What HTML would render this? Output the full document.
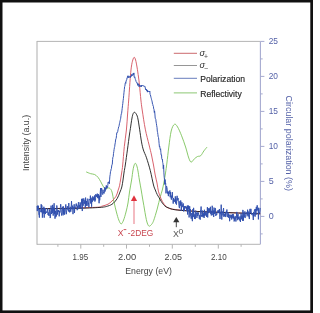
<!DOCTYPE html>
<html><head><meta charset="utf-8"><style>html,body{margin:0;padding:0;background:#fff;width:313px;height:313px;overflow:hidden}svg{display:block;will-change:transform}</style></head>
<body><svg width="313" height="313" viewBox="0 0 313 313" font-family='"Liberation Sans", sans-serif'><rect x="0" y="0" width="313" height="313" fill="#111"/>
<rect x="2.5" y="2.5" width="307.8" height="307.9" fill="#fff"/>
<line x1="37.0" y1="41.4" x2="260.4" y2="41.4" stroke="#b4b4b4" stroke-width="1"/>
<line x1="37.0" y1="40.9" x2="37.0" y2="244.8" stroke="#b4b4b4" stroke-width="1.1"/>
<line x1="37.0" y1="244.3" x2="260.4" y2="244.3" stroke="#b4b4b4" stroke-width="1"/>
<line x1="260.4" y1="41.4" x2="260.4" y2="244.3" stroke="#a6aad0" stroke-width="1.1"/>
<line x1="80.8" y1="244.3" x2="80.8" y2="248.60000000000002" stroke="#b4b4b4" stroke-width="1"/>
<line x1="126.5" y1="244.3" x2="126.5" y2="248.60000000000002" stroke="#b4b4b4" stroke-width="1"/>
<line x1="172.3" y1="244.3" x2="172.3" y2="248.60000000000002" stroke="#b4b4b4" stroke-width="1"/>
<line x1="218.3" y1="244.3" x2="218.3" y2="248.60000000000002" stroke="#b4b4b4" stroke-width="1"/>
<line x1="57.9" y1="244.3" x2="57.9" y2="246.8" stroke="#b4b4b4" stroke-width="1"/>
<line x1="103.7" y1="244.3" x2="103.7" y2="246.8" stroke="#b4b4b4" stroke-width="1"/>
<line x1="149.5" y1="244.3" x2="149.5" y2="246.8" stroke="#b4b4b4" stroke-width="1"/>
<line x1="195.3" y1="244.3" x2="195.3" y2="246.8" stroke="#b4b4b4" stroke-width="1"/>
<line x1="241.1" y1="244.3" x2="241.1" y2="246.8" stroke="#b4b4b4" stroke-width="1"/>
<line x1="260.4" y1="41.4" x2="264.4" y2="41.4" stroke="#a6aad0" stroke-width="1"/>
<line x1="260.4" y1="58.9" x2="262.7" y2="58.9" stroke="#a6aad0" stroke-width="1"/>
<line x1="260.4" y1="76.4" x2="264.4" y2="76.4" stroke="#a6aad0" stroke-width="1"/>
<line x1="260.4" y1="93.9" x2="262.7" y2="93.9" stroke="#a6aad0" stroke-width="1"/>
<line x1="260.4" y1="111.4" x2="264.4" y2="111.4" stroke="#a6aad0" stroke-width="1"/>
<line x1="260.4" y1="128.9" x2="262.7" y2="128.9" stroke="#a6aad0" stroke-width="1"/>
<line x1="260.4" y1="146.4" x2="264.4" y2="146.4" stroke="#a6aad0" stroke-width="1"/>
<line x1="260.4" y1="163.9" x2="262.7" y2="163.9" stroke="#a6aad0" stroke-width="1"/>
<line x1="260.4" y1="181.4" x2="264.4" y2="181.4" stroke="#a6aad0" stroke-width="1"/>
<line x1="260.4" y1="198.9" x2="262.7" y2="198.9" stroke="#a6aad0" stroke-width="1"/>
<line x1="260.4" y1="216.4" x2="264.4" y2="216.4" stroke="#a6aad0" stroke-width="1"/>
<line x1="260.4" y1="233.9" x2="262.7" y2="233.9" stroke="#a6aad0" stroke-width="1"/>
<path d="M86.20,171.90 C86.95,172.20 89.30,173.27 90.70,173.70 C92.10,174.13 93.38,173.90 94.60,174.50 C95.82,175.10 96.97,176.08 98.00,177.30 C99.03,178.52 99.97,180.35 100.80,181.80 C101.63,183.25 102.22,184.80 103.00,186.00 C103.78,187.20 104.67,188.67 105.50,189.00 C106.33,189.33 107.25,188.08 108.00,188.00 C108.75,187.92 109.33,187.83 110.00,188.50 C110.67,189.17 111.33,189.75 112.00,192.00 C112.67,194.25 113.27,198.67 114.00,202.00 C114.73,205.33 115.60,209.00 116.40,212.00 C117.20,215.00 118.00,218.02 118.80,220.00 C119.60,221.98 120.40,223.90 121.20,223.90 C122.00,223.90 122.80,221.98 123.60,220.00 C124.40,218.02 125.27,214.83 126.00,212.00 C126.73,209.17 127.42,206.33 128.00,203.00 C128.58,199.67 128.90,195.83 129.50,192.00 C130.10,188.17 131.02,183.67 131.60,180.00 C132.18,176.33 132.57,172.50 133.00,170.00 C133.43,167.50 133.82,166.12 134.20,165.00 C134.58,163.88 134.92,163.30 135.30,163.30 C135.68,163.30 136.08,163.88 136.50,165.00 C136.92,166.12 137.32,167.50 137.80,170.00 C138.28,172.50 138.83,176.67 139.40,180.00 C139.97,183.33 140.68,187.00 141.20,190.00 C141.72,193.00 142.07,195.45 142.50,198.00 C142.93,200.55 143.38,202.88 143.80,205.30 C144.22,207.72 144.58,210.15 145.00,212.50 C145.42,214.85 145.87,217.48 146.30,219.40 C146.73,221.32 147.12,222.87 147.60,224.00 C148.08,225.13 148.55,226.12 149.20,226.20 C149.85,226.28 150.82,225.28 151.50,224.50 C152.18,223.72 152.67,223.00 153.30,221.50 C153.93,220.00 154.65,217.58 155.30,215.50 C155.95,213.42 156.62,211.17 157.20,209.00 C157.78,206.83 158.27,204.60 158.80,202.50 C159.33,200.40 159.82,198.48 160.40,196.40 C160.98,194.32 161.70,192.40 162.30,190.00 C162.90,187.60 163.47,184.83 164.00,182.00 C164.53,179.17 165.02,176.17 165.50,173.00 C165.98,169.83 166.35,167.33 166.90,163.00 C167.45,158.67 168.08,152.33 168.80,147.00 C169.52,141.67 170.27,134.78 171.20,131.00 C172.13,127.22 173.33,124.97 174.40,124.30 C175.47,123.63 176.40,125.08 177.60,127.00 C178.80,128.92 180.27,132.47 181.60,135.80 C182.93,139.13 184.40,143.28 185.60,147.00 C186.80,150.72 187.87,155.58 188.80,158.10 C189.73,160.62 190.28,161.97 191.20,162.10 C192.12,162.23 193.25,159.83 194.30,158.90 C195.35,157.97 196.43,157.03 197.50,156.50 C198.57,155.97 199.63,156.63 200.70,155.70 C201.77,154.77 202.83,152.35 203.90,150.90 C204.97,149.45 206.57,147.65 207.10,147.00" fill="none" stroke="#7cc35a" stroke-width="0.9"/>
<path d="M37.00,208.60 C40.83,208.57 52.83,208.53 60.00,208.40 C67.17,208.27 73.67,208.00 80.00,207.80 C86.33,207.60 94.33,207.47 98.00,207.20 C101.67,206.93 100.33,206.70 102.00,206.20 C103.67,205.70 106.33,205.07 108.00,204.20 C109.67,203.33 110.65,202.33 112.00,201.00 C113.35,199.67 115.07,198.03 116.10,196.20 C117.13,194.37 117.63,191.73 118.20,190.00 C118.77,188.27 119.08,187.63 119.50,185.80 C119.92,183.97 120.32,181.30 120.70,179.00 C121.08,176.70 121.47,174.33 121.80,172.00 C122.13,169.67 122.28,169.23 122.70,165.00 C123.12,160.77 123.68,152.43 124.30,146.60 C124.92,140.77 125.85,135.43 126.40,130.00 C126.95,124.57 127.22,119.00 127.60,114.00 C127.98,109.00 128.40,104.00 128.70,100.00 C129.00,96.00 129.10,94.17 129.40,90.00 C129.70,85.83 130.15,79.00 130.50,75.00 C130.85,71.00 131.12,68.50 131.50,66.00 C131.88,63.50 132.35,61.45 132.80,60.00 C133.25,58.55 133.73,57.30 134.20,57.30 C134.67,57.30 135.13,58.38 135.60,60.00 C136.07,61.62 136.52,64.17 137.00,67.00 C137.48,69.83 138.08,73.95 138.50,77.00 C138.92,80.05 139.10,81.47 139.50,85.30 C139.90,89.13 140.45,95.88 140.90,100.00 C141.35,104.12 141.47,105.13 142.20,110.00 C142.93,114.87 144.15,123.37 145.30,129.20 C146.45,135.03 148.07,140.70 149.10,145.00 C150.13,149.30 150.77,151.67 151.50,155.00 C152.23,158.33 152.88,161.67 153.50,165.00 C154.12,168.33 154.62,172.00 155.20,175.00 C155.78,178.00 156.47,180.30 157.00,183.00 C157.53,185.70 157.87,188.95 158.40,191.20 C158.93,193.45 159.55,194.82 160.20,196.50 C160.85,198.18 161.20,199.52 162.30,201.30 C163.40,203.08 165.12,205.90 166.80,207.20 C168.48,208.50 170.20,208.62 172.40,209.10 C174.60,209.58 177.07,209.80 180.00,210.10 C182.93,210.40 186.67,210.65 190.00,210.90 C193.33,211.15 193.33,211.30 200.00,211.60 C206.67,211.90 219.97,212.33 230.00,212.70 C240.03,213.07 255.17,213.62 260.20,213.80" fill="none" stroke="#d4505c" stroke-width="0.9"/>
<path d="M37.00,208.70 C43.33,208.65 64.50,208.62 75.00,208.40 C85.50,208.18 94.50,207.80 100.00,207.40 C105.50,207.00 105.83,206.65 108.00,206.00 C110.17,205.35 111.47,204.75 113.00,203.50 C114.53,202.25 116.03,200.42 117.20,198.50 C118.37,196.58 119.23,193.92 120.00,192.00 C120.77,190.08 121.30,189.00 121.80,187.00 C122.30,185.00 122.62,182.50 123.00,180.00 C123.38,177.50 123.72,174.50 124.10,172.00 C124.48,169.50 124.73,168.80 125.30,165.00 C125.87,161.20 126.82,154.20 127.50,149.20 C128.18,144.20 128.92,138.45 129.40,135.00 C129.88,131.55 129.97,131.33 130.40,128.50 C130.83,125.67 131.53,120.50 132.00,118.00 C132.47,115.50 132.78,114.45 133.20,113.50 C133.62,112.55 134.05,112.30 134.50,112.30 C134.95,112.30 135.37,112.60 135.90,113.50 C136.43,114.40 137.08,115.08 137.70,117.70 C138.32,120.32 138.97,125.17 139.60,129.20 C140.23,133.23 140.87,138.43 141.50,141.90 C142.13,145.37 142.57,147.35 143.40,150.00 C144.23,152.65 145.35,154.37 146.50,157.80 C147.65,161.23 149.13,166.07 150.30,170.60 C151.47,175.13 152.67,181.77 153.50,185.00 C154.33,188.23 154.68,188.42 155.30,190.00 C155.92,191.58 156.57,193.22 157.20,194.50 C157.83,195.78 158.42,196.53 159.10,197.70 C159.78,198.87 160.55,200.33 161.30,201.50 C162.05,202.67 162.82,203.82 163.60,204.70 C164.38,205.58 165.27,206.32 166.00,206.80 C166.73,207.28 166.93,207.18 168.00,207.60 C169.07,208.02 170.40,208.85 172.40,209.30 C174.40,209.75 177.07,210.02 180.00,210.30 C182.93,210.58 186.67,210.78 190.00,211.00 C193.33,211.22 193.33,211.32 200.00,211.60 C206.67,211.88 219.97,212.33 230.00,212.70 C240.03,213.07 255.17,213.62 260.20,213.80" fill="none" stroke="#1a1a1a" stroke-width="0.9"/>
<path d="M37.00,205.98 L37.30,211.11 L37.60,205.65 L37.90,209.70 L38.20,206.02 L38.50,205.78 L38.80,214.83 L39.10,215.27 L39.40,217.61 L39.70,209.01 L40.00,210.24 L40.30,210.73 L40.60,211.43 L40.90,212.16 L41.20,204.23 L41.50,212.20 L41.80,205.24 L42.10,209.97 L42.40,217.65 L42.70,209.82 L43.00,209.05 L43.30,213.58 L43.60,210.31 L43.90,206.77 L44.20,217.67 L44.50,208.38 L44.80,213.05 L45.10,208.08 L45.40,214.07 L45.70,212.05 L46.00,212.53 L46.30,211.59 L46.60,211.89 L46.90,212.90 L47.20,210.74 L47.50,208.26 L47.80,212.09 L48.10,215.06 L48.40,212.73 L48.70,212.50 L49.00,215.96 L49.30,209.26 L49.60,211.11 L49.90,213.46 L50.20,218.05 L50.50,216.08 L50.80,210.82 L51.10,205.63 L51.40,214.03 L51.70,212.75 L52.00,208.07 L52.30,213.09 L52.60,204.87 L52.90,207.75 L53.20,215.65 L53.50,207.54 L53.80,210.30 L54.10,203.27 L54.40,214.11 L54.70,208.01 L55.00,218.68 L55.30,213.03 L55.60,210.84 L55.90,217.11 L56.20,215.12 L56.50,215.81 L56.80,205.47 L57.10,209.07 L57.40,214.59 L57.70,210.38 L58.00,210.44 L58.30,211.92 L58.60,210.05 L58.90,210.87 L59.20,216.30 L59.50,211.12 L59.80,212.65 L60.10,212.42 L60.40,207.57 L60.70,204.16 L61.00,206.73 L61.30,212.49 L61.60,215.53 L61.90,213.82 L62.20,211.50 L62.50,206.78 L62.80,208.70 L63.10,215.35 L63.40,206.39 L63.70,213.96 L64.00,208.78 L64.30,208.63 L64.60,214.70 L64.90,212.76 L65.20,209.97 L65.50,207.11 L65.80,204.41 L66.10,212.21 L66.40,214.17 L66.70,210.64 L67.00,208.57 L67.30,206.14 L67.60,209.61 L67.90,210.04 L68.20,210.06 L68.50,211.28 L68.80,203.04 L69.10,211.68 L69.40,210.29 L69.70,212.36 L70.00,211.37 L70.30,206.84 L70.60,211.38 L70.90,211.69 L71.20,206.90 L71.50,201.12 L71.80,206.20 L72.10,209.34 L72.40,205.82 L72.70,205.68 L73.00,214.15 L73.30,207.42 L73.60,208.63 L73.90,207.20 L74.20,204.26 L74.50,212.91 L74.80,206.83 L75.10,207.60 L75.40,207.91 L75.70,207.93 L76.00,203.85 L76.30,203.53 L76.60,205.96 L76.90,204.75 L77.20,210.19 L77.50,206.71 L77.80,205.94 L78.10,209.15 L78.40,202.07 L78.70,202.46 L79.00,207.02 L79.30,205.01 L79.60,208.06 L79.90,208.10 L80.20,202.43 L80.50,208.15 L80.80,208.46 L81.10,203.72 L81.40,203.76 L81.70,198.83 L82.00,206.07 L82.30,211.04 L82.60,198.69 L82.90,202.75 L83.20,205.73 L83.50,201.42 L83.80,198.40 L84.10,200.56 L84.40,203.72 L84.70,202.07 L85.00,200.13 L85.30,207.70 L85.60,197.60 L85.90,202.02 L86.20,205.91 L86.50,201.00 L86.80,202.80 L87.10,205.80 L87.40,199.30 L87.70,198.67 L88.00,200.31 L88.30,204.25 L88.60,202.82 L88.90,207.08 L89.20,198.98 L89.50,199.80 L89.80,200.00 L90.10,199.98 L90.40,195.64 L90.70,203.51 L91.00,199.57 L91.30,198.75 L91.60,206.69 L91.90,197.61 L92.20,201.78 L92.50,201.69 L92.80,196.33 L93.10,199.36 L93.40,200.30 L93.70,197.35 L94.00,199.29 L94.30,200.51 L94.60,195.46 L94.90,201.56 L95.20,200.62 L95.50,200.37 L95.80,194.15 L96.10,196.69 L96.40,195.30 L96.70,196.63 L97.00,194.27 L97.30,193.62 L97.60,197.89 L97.90,194.44 L98.20,198.36 L98.50,194.30 L98.80,198.00 L99.10,203.22 L99.40,195.70 L99.70,200.32 L100.00,196.65 L100.30,191.92 L100.60,188.02 L100.90,196.96 L101.20,191.41 L101.50,188.04 L101.80,188.84 L102.10,193.26 L102.40,193.59 L102.70,194.59 L103.00,189.76 L103.30,191.54 L103.60,192.98 L103.90,193.59 L104.20,193.37 L104.50,190.89 L104.80,187.21 L105.10,191.48 L105.40,187.92 L105.70,189.45 L106.00,188.23 L106.30,185.39 L106.60,188.53 L106.90,186.37 L107.20,187.57 L107.50,187.48 L107.80,185.43 L108.10,182.12 L108.40,182.60 L108.70,181.94 L109.00,181.71 L109.30,183.85 L109.60,179.88 L109.90,176.12 L110.20,174.61 L110.50,171.44 L110.80,171.26 L111.10,169.02 L111.40,168.61 L111.70,165.98 L112.00,164.41 L112.30,164.27 L112.60,159.57 L112.90,157.16 L113.20,156.78 L113.50,153.61 L113.80,151.59 L114.10,149.40 L114.40,147.64 L114.70,146.67 L115.00,144.00 L115.30,142.72 L115.60,139.98 L115.90,138.78 L116.20,138.31 L116.50,135.52 L116.80,132.64 L117.10,132.53 L117.40,132.56 L117.70,131.73 L118.00,129.81 L118.30,128.76 L118.60,126.91 L118.90,126.61 L119.20,125.20 L119.50,123.27 L119.80,122.28 L120.10,120.82 L120.40,119.58 L120.70,118.22 L121.00,115.55 L121.30,113.63 L121.60,113.53 L121.90,110.83 L122.20,108.49 L122.50,105.71 L122.80,103.49 L123.10,100.67 L123.40,98.61 L123.70,95.35 L124.00,92.29 L124.30,89.62 L124.60,86.63 L124.90,86.17 L125.20,83.37 L125.50,82.51 L125.80,83.43 L126.10,80.60 L126.40,80.62 L126.70,79.82 L127.00,77.84 L127.30,77.97 L127.60,76.06 L127.90,75.70 L128.20,75.88 L128.50,77.73 L128.80,76.48 L129.10,76.49 L129.40,76.39 L129.70,76.42 L130.00,77.90 L130.30,77.32 L130.60,75.99 L130.90,76.90 L131.20,76.03 L131.50,74.54 L131.80,76.01 L132.10,74.54 L132.40,74.81 L132.70,75.38 L133.00,73.78 L133.30,73.14 L133.60,74.62 L133.90,72.92 L134.20,77.22 L134.50,77.39 L134.80,76.87 L135.10,78.34 L135.40,79.49 L135.70,79.84 L136.00,81.31 L136.30,81.75 L136.60,82.05 L136.90,83.18 L137.20,82.96 L137.50,83.85 L137.80,85.43 L138.10,83.57 L138.40,84.97 L138.70,84.60 L139.00,86.72 L139.30,84.84 L139.60,85.07 L139.90,86.09 L140.20,85.98 L140.50,86.61 L140.80,86.30 L141.10,85.15 L141.40,86.71 L141.70,85.55 L142.00,85.01 L142.30,85.57 L142.60,85.85 L142.90,85.46 L143.20,85.89 L143.50,85.73 L143.80,86.38 L144.10,86.37 L144.40,86.11 L144.70,86.56 L145.00,86.36 L145.30,87.93 L145.60,89.67 L145.90,88.99 L146.20,89.44 L146.50,89.00 L146.80,91.00 L147.10,90.05 L147.40,92.15 L147.70,90.58 L148.00,90.86 L148.30,91.70 L148.60,91.44 L148.90,91.90 L149.20,91.33 L149.50,91.85 L149.80,91.05 L150.10,94.68 L150.40,94.88 L150.70,96.06 L151.00,97.44 L151.30,98.36 L151.60,99.73 L151.90,100.69 L152.20,101.93 L152.50,104.16 L152.80,104.49 L153.10,106.00 L153.40,106.36 L153.70,108.90 L154.00,109.45 L154.30,112.48 L154.60,110.96 L154.90,114.03 L155.20,118.06 L155.50,118.88 L155.80,119.43 L156.10,122.02 L156.40,123.67 L156.70,125.74 L157.00,127.33 L157.30,131.11 L157.60,132.46 L157.90,134.59 L158.20,136.90 L158.50,137.52 L158.80,140.18 L159.10,143.62 L159.40,146.48 L159.70,146.02 L160.00,148.44 L160.30,149.57 L160.60,148.77 L160.90,152.50 L161.20,155.11 L161.50,154.86 L161.80,158.74 L162.10,159.32 L162.40,159.01 L162.70,162.56 L163.00,163.77 L163.30,168.77 L163.60,165.06 L163.90,172.86 L164.20,177.16 L164.50,179.75 L164.80,184.49 L165.10,179.48 L165.40,183.71 L165.70,183.06 L166.00,193.35 L166.30,187.70 L166.60,186.18 L166.90,187.33 L167.20,189.11 L167.50,193.47 L167.80,191.56 L168.10,194.08 L168.40,196.14 L168.70,191.64 L169.00,193.99 L169.30,192.65 L169.60,192.18 L169.90,190.45 L170.20,197.21 L170.50,192.12 L170.80,196.84 L171.10,198.61 L171.40,199.64 L171.70,195.64 L172.00,197.98 L172.30,192.10 L172.60,197.42 L172.90,198.38 L173.20,203.61 L173.50,197.98 L173.80,201.49 L174.10,199.37 L174.40,201.58 L174.70,201.34 L175.00,201.64 L175.30,196.33 L175.60,203.33 L175.90,198.30 L176.20,203.68 L176.50,204.61 L176.80,199.92 L177.10,195.82 L177.40,200.23 L177.70,200.42 L178.00,197.97 L178.30,200.16 L178.60,200.39 L178.90,205.33 L179.20,207.28 L179.50,208.13 L179.80,201.29 L180.10,202.84 L180.40,205.62 L180.70,200.48 L181.00,202.89 L181.30,210.87 L181.60,205.83 L181.90,202.28 L182.20,207.22 L182.50,205.98 L182.80,204.44 L183.10,203.96 L183.40,203.52 L183.70,211.45 L184.00,208.24 L184.30,210.74 L184.60,206.22 L184.90,207.47 L185.20,205.99 L185.50,206.93 L185.80,208.46 L186.10,208.10 L186.40,206.79 L186.70,211.00 L187.00,210.95 L187.30,205.61 L187.60,214.53 L187.90,206.14 L188.20,205.40 L188.50,209.23 L188.80,205.98 L189.10,217.43 L189.40,211.78 L189.70,206.31 L190.00,213.40 L190.30,209.00 L190.60,216.38 L190.90,216.46 L191.20,218.70 L191.50,215.62 L191.80,212.95 L192.10,219.20 L192.40,221.17 L192.70,209.70 L193.00,209.03 L193.30,216.88 L193.60,207.84 L193.90,211.35 L194.20,217.02 L194.50,218.95 L194.80,214.32 L195.10,218.82 L195.40,218.90 L195.70,210.67 L196.00,212.85 L196.30,213.80 L196.60,212.98 L196.90,217.85 L197.20,212.21 L197.50,214.74 L197.80,216.06 L198.10,213.12 L198.40,212.48 L198.70,214.77 L199.00,215.79 L199.30,218.79 L199.60,215.92 L199.90,214.96 L200.20,219.68 L200.50,210.59 L200.80,211.79 L201.10,206.54 L201.40,214.61 L201.70,216.78 L202.00,214.98 L202.30,216.05 L202.60,210.57 L202.90,217.16 L203.20,214.06 L203.50,216.31 L203.80,212.78 L204.10,217.98 L204.40,209.75 L204.70,215.77 L205.00,211.13 L205.30,211.64 L205.60,215.34 L205.90,214.39 L206.20,212.22 L206.50,216.84 L206.80,213.63 L207.10,212.66 L207.40,207.13 L207.70,217.46 L208.00,208.18 L208.30,210.84 L208.60,213.14 L208.90,208.50 L209.20,210.64 L209.50,208.57 L209.80,212.41 L210.10,210.09 L210.40,206.80 L210.70,213.88 L211.00,212.14 L211.30,215.45 L211.60,210.84 L211.90,211.65 L212.20,205.75 L212.50,208.67 L212.80,215.20 L213.10,211.84 L213.40,210.57 L213.70,217.02 L214.00,207.61 L214.30,209.51 L214.60,213.99 L214.90,213.28 L215.20,208.20 L215.50,208.27 L215.80,215.95 L216.10,213.99 L216.40,213.43 L216.70,214.88 L217.00,213.74 L217.30,211.86 L217.60,211.50 L217.90,210.35 L218.20,212.37 L218.50,210.56 L218.80,213.15 L219.10,211.55 L219.40,208.99 L219.70,214.08 L220.00,219.04 L220.30,213.76 L220.60,211.92 L220.90,214.17 L221.20,204.66 L221.50,213.78 L221.80,219.55 L222.10,211.74 L222.40,211.73 L222.70,211.62 L223.00,215.46 L223.30,209.55 L223.60,208.08 L223.90,216.87 L224.20,213.79 L224.50,216.17 L224.80,214.53 L225.10,215.39 L225.40,212.42 L225.70,217.05 L226.00,215.34 L226.30,211.26 L226.60,213.09 L226.90,209.50 L227.20,215.48 L227.50,216.84 L227.80,214.15 L228.10,212.36 L228.40,217.74 L228.70,213.91 L229.00,215.76 L229.30,214.98 L229.60,221.21 L229.90,218.90 L230.20,214.66 L230.50,215.73 L230.80,217.76 L231.10,216.90 L231.40,214.96 L231.70,219.48 L232.00,215.83 L232.30,214.13 L232.60,217.84 L232.90,218.29 L233.20,213.96 L233.50,218.37 L233.80,215.84 L234.10,221.46 L234.40,221.11 L234.70,217.36 L235.00,219.35 L235.30,216.30 L235.60,217.76 L235.90,221.53 L236.20,218.35 L236.50,215.06 L236.80,211.92 L237.10,218.22 L237.40,215.07 L237.70,220.16 L238.00,213.90 L238.30,218.98 L238.60,217.00 L238.90,218.34 L239.20,219.42 L239.50,220.40 L239.80,216.77 L240.10,216.30 L240.40,221.95 L240.70,217.97 L241.00,213.51 L241.30,214.63 L241.60,219.28 L241.90,216.68 L242.20,215.77 L242.50,220.74 L242.80,209.92 L243.10,210.49 L243.40,220.78 L243.70,213.57 L244.00,212.59 L244.30,217.04 L244.60,217.44 L244.90,211.38 L245.20,217.42 L245.50,217.67 L245.80,216.48 L246.10,214.30 L246.40,212.75 L246.70,212.20 L247.00,212.34 L247.30,215.54 L247.60,209.69 L247.90,212.51 L248.20,216.55 L248.50,213.04 L248.80,211.51 L249.10,218.04 L249.40,219.06 L249.70,211.78 L250.00,208.88 L250.30,213.18 L250.60,212.85 L250.90,208.87 L251.20,211.85 L251.50,214.48 L251.80,213.75 L252.10,213.05 L252.40,215.18 L252.70,214.74 L253.00,215.75 L253.30,220.02 L253.60,212.19 L253.90,216.03 L254.20,211.64 L254.50,209.72 L254.80,209.32 L255.10,216.66 L255.40,208.92 L255.70,210.56 L256.00,214.71 L256.30,206.86 L256.60,210.73 L256.90,208.38 L257.20,205.26 L257.50,207.88 L257.80,210.47 L258.10,208.64 L258.40,219.37 L258.70,207.76 L259.00,212.33 L259.30,212.25 L259.60,213.20 L259.90,211.44 L260.20,207.98" fill="none" stroke="#2f4fae" stroke-width="0.95" stroke-linejoin="round"/>
<line x1="173.8" y1="53.3" x2="197" y2="53.3" stroke="#c86266" stroke-width="0.95"/>
<line x1="173.8" y1="65.5" x2="197" y2="65.5" stroke="#8a8a8a" stroke-width="0.9"/>
<line x1="173.8" y1="78.3" x2="197" y2="78.3" stroke="#5f76b8" stroke-width="0.95"/>
<line x1="173.8" y1="92.9" x2="197" y2="92.9" stroke="#86c56c" stroke-width="0.95"/>
<text x="72.5" y="259.8" font-size="9.2" fill="#444" textLength="15.6" lengthAdjust="spacingAndGlyphs" >1.95</text>
<text x="118.0" y="259.8" font-size="9.2" fill="#444" textLength="18.2" lengthAdjust="spacingAndGlyphs" >2.00</text>
<text x="164.5" y="259.8" font-size="9.2" fill="#444" textLength="17.4" lengthAdjust="spacingAndGlyphs" >2.05</text>
<text x="211.0" y="259.8" font-size="9.2" fill="#444" textLength="15.7" lengthAdjust="spacingAndGlyphs" >2.10</text>
<text x="125.3" y="273.6" font-size="9.2" fill="#444" textLength="46.6" lengthAdjust="spacingAndGlyphs" >Energy (eV)</text>
<text x="268.7" y="44.199999999999996" font-size="9.6" fill="#5562a8" textLength="9.3" lengthAdjust="spacingAndGlyphs" >25</text>
<text x="268.7" y="79.2" font-size="9.6" fill="#5562a8" textLength="9.3" lengthAdjust="spacingAndGlyphs" >20</text>
<text x="268.7" y="114.2" font-size="9.6" fill="#5562a8" textLength="9.3" lengthAdjust="spacingAndGlyphs" >15</text>
<text x="268.7" y="149.20000000000002" font-size="9.6" fill="#5562a8" textLength="9.3" lengthAdjust="spacingAndGlyphs" >10</text>
<text x="268.7" y="184.20000000000002" font-size="9.6" fill="#5562a8" textLength="5.0" lengthAdjust="spacingAndGlyphs" >5</text>
<text x="268.7" y="219.20000000000002" font-size="9.6" fill="#5562a8" textLength="5.0" lengthAdjust="spacingAndGlyphs" >0</text>
<text transform="translate(286.3,95.5) rotate(90)" x="0" y="0" font-size="9.6" fill="#5562a8" textLength="95.5" lengthAdjust="spacingAndGlyphs">Circular polarization (%)</text>
<text transform="translate(29.3,170.9) rotate(-90)" x="0" y="0" font-size="8.8" fill="#444" textLength="56" lengthAdjust="spacingAndGlyphs">Intensity (a.u.)</text>
<text x="200.2" y="82.2" font-size="9.2" fill="#2a2a2a" textLength="44.8" lengthAdjust="spacingAndGlyphs" stroke="#2a2a2a" stroke-width="0.18">Polarization</text>
<text x="200.2" y="96.9" font-size="9.2" fill="#2a2a2a" textLength="41.5" lengthAdjust="spacingAndGlyphs" stroke="#2a2a2a" stroke-width="0.18">Reflectivity</text>
<text x="199.4" y="55.6" font-style="italic" font-size="9.2" fill="#333">σ</text>
<text x="204.1" y="58.6" font-size="6.8" fill="#444">+</text>
<text x="199.4" y="68" font-style="italic" font-size="9.2" fill="#333">σ</text>
<text x="203.9" y="71.0" font-size="7.2" fill="#444">−</text>
<line x1="134" y1="200" x2="134" y2="223.9" stroke="#ec8e98" stroke-width="1.2"/>
<path d="M134,195.2 L130.9,201.0 L137.1,201.0 Z" fill="#e0323e"/>
<text x="117.8" y="235.8" font-size="8.6" fill="#c8454f" >X</text>
<line x1="123.6" y1="229.6" x2="126.3" y2="229.6" stroke="#c8454f" stroke-width="0.9"/>
<text x="127.8" y="235.8" font-size="8.6" fill="#c8454f" textLength="25.5" lengthAdjust="spacingAndGlyphs" >-2DEG</text>
<line x1="176.3" y1="221" x2="176.3" y2="227.2" stroke="#333" stroke-width="0.9"/>
<path d="M176.3,216.9 L173.2,222.2 L179.4,222.2 Z" fill="#333"/>
<text x="173.0" y="236.5" font-size="8.8" fill="#555" >X</text>
<text x="178.4" y="233.6" font-size="6.4" fill="#555" textLength="4.8" lengthAdjust="spacingAndGlyphs" >0</text></svg></body></html>
